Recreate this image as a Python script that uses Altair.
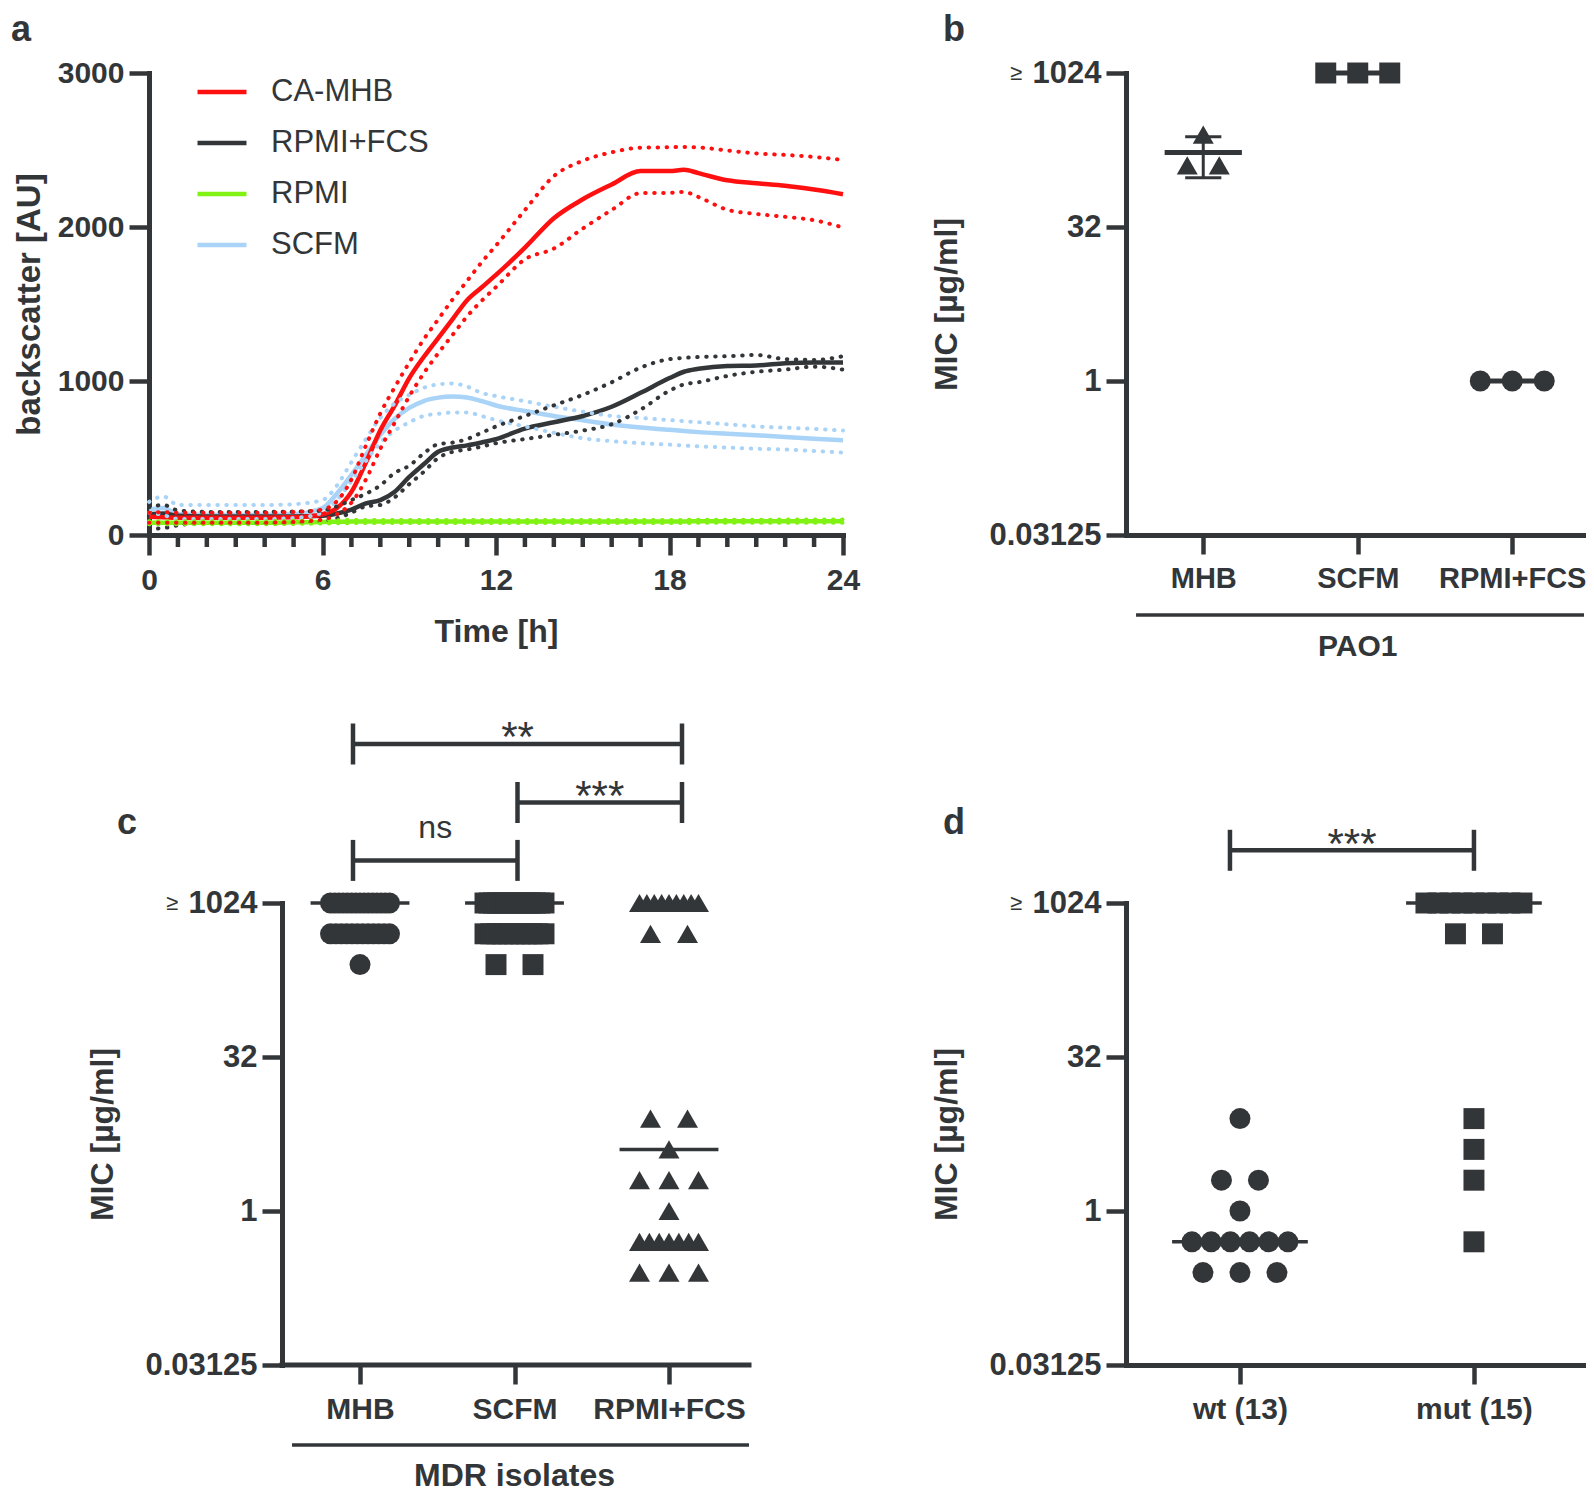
import altair as alt
import numpy as np
import pandas as pd

FONT = "Liberation Sans"
INK = "#333638"

# ---------------- panel a : growth curves (backscatter) ----------------
T = [0, 0.5, 1, 2, 3, 4, 5, 6, 6.5, 7, 7.5, 8, 8.5, 9, 9.5, 10, 10.5, 11, 11.5, 12,
     13, 14, 15, 16, 17, 18, 18.5, 19, 20, 21, 22, 23, 24]

MHB_MEAN = [118, 115, 112, 112, 112, 112, 115, 135, 175, 280, 470, 680, 842, 1019, 1156, 1279, 1402, 1525, 1607, 1689,
            1866, 2057, 2180, 2276, 2363, 2363, 2372, 2350, 2303, 2284, 2268, 2243, 2213]
MHB_HI = [145, 148, 145, 145, 145, 145, 150, 165, 220, 360, 580, 790, 960, 1120, 1270, 1400, 1530, 1650, 1770, 1880,
          2110, 2330, 2430, 2485, 2515, 2518, 2520, 2517, 2497, 2478, 2468, 2455, 2435]
MHB_LO = [80, 80, 80, 80, 80, 80, 85, 100, 135, 210, 360, 560, 730, 900, 1050, 1180, 1300, 1420, 1520, 1610,
          1790, 1860, 1990, 2110, 2220, 2222, 2228, 2195, 2112, 2085, 2066, 2044, 1997]

FCS_MEAN = [135, 140, 125, 120, 120, 120, 120, 125, 140, 165, 205, 227, 281, 377, 459, 541, 568, 582, 601, 623,
            691, 732, 773, 833, 923, 1019, 1060, 1079, 1098, 1101, 1115, 1120, 1120]
FCS_HI = [180, 195, 160, 150, 150, 150, 152, 158, 186, 227, 268, 322, 404, 450, 530, 590, 600, 623, 664, 705,
          773, 842, 910, 992, 1087, 1142, 1150, 1156, 1161, 1169, 1142, 1137, 1161]
FCS_LO = [40, 45, 63, 77, 77, 77, 80, 90, 109, 145, 186, 195, 245, 330, 410, 500, 540, 555, 574, 596,
          623, 650, 678, 719, 814, 937, 978, 992, 1033, 1060, 1074, 1093, 1074]

RPMI_MEAN = [80, 80, 80, 80, 80, 80, 82, 85, 86, 87, 88, 88, 88, 88, 88, 88, 88, 88, 88, 88,
             88, 88, 88, 88, 88, 88, 88, 89, 89, 89, 90, 90, 90]
RPMI_HI = [90, 90, 90, 90, 90, 90, 92, 95, 96, 97, 98, 98, 98, 98, 98, 98, 98, 98, 98, 98,
           98, 98, 98, 98, 98, 98, 98, 99, 99, 99, 100, 100, 100]
RPMI_LO = [70, 70, 70, 70, 70, 70, 72, 75, 76, 77, 78, 78, 78, 78, 78, 78, 78, 78, 78, 78,
           78, 78, 78, 78, 78, 78, 78, 79, 79, 79, 80, 80, 80]

SCFM_MEAN = [165, 175, 135, 130, 130, 130, 135, 175, 270, 390, 520, 650, 755, 825, 870, 892, 900, 893, 870, 841,
             805, 773, 745, 718, 698, 683, 675, 668, 658, 648, 637, 625, 615]
SCFM_HI = [215, 250, 195, 194, 194, 195, 200, 227, 322, 473, 623, 760, 855, 910, 956, 978, 984, 964, 923, 902,
           869, 833, 801, 773, 760, 746, 739, 732, 719, 705, 697, 689, 678]
SCFM_LO = [145, 130, 104, 104, 104, 104, 110, 145, 227, 350, 480, 600, 678, 732, 773, 787, 795, 795, 773, 746,
           705, 664, 628, 609, 596, 587, 581, 576, 568, 560, 555, 546, 535]

MEDIA = ["CA-MHB", "RPMI+FCS", "RPMI", "SCFM"]
MEDIA_COLORS = ["#ff1010", "#333638", "#80f214", "#a9d3f7"]
DRAW_ORDER = ["SCFM", "RPMI+FCS", "RPMI", "CA-MHB"]
SERIES = {
    "CA-MHB": (MHB_MEAN, MHB_HI, MHB_LO),
    "RPMI+FCS": (FCS_MEAN, FCS_HI, FCS_LO),
    "RPMI": (RPMI_MEAN, RPMI_HI, RPMI_LO),
    "SCFM": (SCFM_MEAN, SCFM_HI, SCFM_LO),
}
MAJOR_HOURS = [0, 6, 12, 18, 24]
MINOR_HOURS = [h for h in range(25) if h % 6]

# ---------------- panel b : PAO1 MIC ----------------
B_CATS = ["MHB", "SCFM", "RPMI+FCS"]
B_MHB = [256, 128, 128]
B_SCFM = [1024, 1024, 1024]
B_RPMI = [1, 1, 1]
B_SHAPES = ["triangle-up", "square", "circle"]

# ---------------- panel c : MDR isolates MIC ----------------
C_CATS = ["MHB", "SCFM", "RPMI+FCS"]
C_MHB = [1024] * 15 + [512] * 12 + [256]
C_SCFM = [1024] * 15 + [512] * 11 + [256] * 2
C_RPMI = [1024] * 9 + [512] * 2 + [8] * 2 + [4] + [2] * 3 + [1] + [0.5] * 7 + [0.25] * 3
C_MEDIANS = [1024, 1024, 4]
C_SHAPES = ["circle", "square", "triangle-up"]
C_TESTS = [("MHB", "RPMI+FCS", "**"), ("SCFM", "RPMI+FCS", "***"), ("MHB", "SCFM", "ns")]

# ---------------- panel d : wt vs mut ----------------
D_CATS = ["wt (13)", "mut (15)"]
D_WT = [8, 2, 2, 1] + [0.5] * 6 + [0.25] * 3
D_MUT = [1024] * 9 + [512] * 2 + [8, 4, 2, 0.5]
D_MEDIANS = [0.5, 1024]
D_SHAPES = ["circle", "square"]
D_TESTS = [("wt (13)", "mut (15)", "***")]

Y_TICKS = [0.03125, 1, 32, 1024]

# ---------------- layout constants ----------------
H = 462
W_A, W_B, W_C, W_D = 694, 458, 600, 458
UNIT_BC = 154.5
UNIT_D = 234.0
B_DOM = [0.5, 0.5 + W_B / UNIT_BC]
C_DOM = [-0.3657, -0.3657 + W_C / UNIT_BC]
C_AXIS_OFF = 133
D_DOM = [0.513, 0.513 + W_D / UNIT_D]
PXD = H / 15.0
MARK = 440
LETTER_Y = -32
LETTER_SIZE = 36


def above(px):
    return 1024.0 * 2 ** (px / PXD)


def spread(values, center, base_px, span_px, unit_px):
    vals = list(values)
    out = []
    for v in sorted(set(vals), reverse=True):
        n = vals.count(v)
        step = base_px if n < 2 else min(base_px, span_px / (n - 1))
        for i in range(n):
            out.append((center + (i - (n - 1) / 2.0) * step / unit_px, v))
    return out


def dot_frame(prefix, cats, groups, base_px, span_px, unit_px):
    rows = []
    for k, (cat, vals) in enumerate(zip(cats, groups)):
        for u, v in spread(vals, k + 1, base_px, span_px, unit_px):
            rows.append({"u": u, "mic": v, "grp": prefix + cat})
    return pd.DataFrame(rows)


def text_layer(txt, x, y, size, weight="bold", align="center", baseline="alphabetic"):
    return alt.Chart(pd.DataFrame({"lab": [txt]})).mark_text(
        font=FONT, fontSize=size, fontWeight=weight, color=INK, align=align, baseline=baseline
    ).encode(x=alt.value(x), y=alt.value(y), text="lab:N")


def mic_y(offset=0):
    return alt.Y(
        "mic:Q",
        scale=alt.Scale(type="log", base=2, domain=[0.03125, 1024], nice=False),
        axis=alt.Axis(values=Y_TICKS, format=".5~f", tickSize=20, labelFontSize=31, labelPadding=5,
                      labelFlush=False,
                      title="MIC [µg/ml]", titleX=-170, titleY=H / 2, titleAngle=270,
                      titleBaseline="alphabetic", titleAlign="center", titleFontSize=32, offset=offset),
    )


def cat_x(cats, dom, font, show_domain=True):
    expr = "[" + ",".join(["''"] + ["'" + c + "'" for c in cats]) + "][datum.value]"
    return alt.X(
        "u:Q",
        scale=alt.Scale(domain=dom, nice=False, zero=False),
        axis=alt.Axis(values=list(range(1, len(cats) + 1)), labelExpr=expr, tickSize=19,
                      labelFontSize=font, labelPadding=10, title=None, domain=show_domain,
                      labelFlush=False),
    )


def dot_panel(prefix, cats, groups, shapes, base_px, span_px, unit_px, dom, lab_font, axis_off, show_domain):
    df = dot_frame(prefix, cats, groups, base_px, span_px, unit_px)
    pts = alt.Chart(df).mark_point(filled=True, size=MARK, opacity=1, color=INK).encode(
        x=cat_x(cats, dom, lab_font, show_domain),
        y=mic_y(axis_off),
        shape=alt.Shape("grp:N", scale=alt.Scale(domain=[prefix + c for c in cats], range=shapes),
                        legend=None),
    )
    return pts


def center_lines(centers, half, width):
    df = pd.DataFrame({"u": [k + 1 - half for k in range(len(centers))],
                       "u2": [k + 1 + half for k in range(len(centers))],
                       "mic": centers})
    return alt.Chart(df).mark_rule(color=INK, strokeWidth=width).encode(
        x="u:Q", x2="u2:Q", y="mic:Q")


def brackets(cats, tests, levels_px, text_px, nudges_px, unit_px, sizes):
    hs, vs, ts = [], [], []
    for (a, b, lab), lv, tp, fs in zip(tests, levels_px, text_px, sizes):
        ua = cats.index(a) + 1 + nudges_px[a] / unit_px
        ub = cats.index(b) + 1 + nudges_px[b] / unit_px
        hs.append({"u": ua, "u2": ub, "mic": above(lv)})
        for uu in (ua, ub):
            vs.append({"u": uu, "mic": above(lv - 20.5), "mic2": above(lv + 20.5)})
        ts.append({"u": (ua + ub) / 2, "mic": above(tp), "lab": lab, "fs": fs})
    hl = alt.Chart(pd.DataFrame(hs)).mark_rule(color=INK, strokeWidth=4.5).encode(
        x="u:Q", x2="u2:Q", y="mic:Q")
    vl = alt.Chart(pd.DataFrame(vs)).mark_rule(color=INK, strokeWidth=4.5).encode(
        x="u:Q", y="mic:Q", y2="mic2:Q")
    layers = [hl, vl]
    tdf = pd.DataFrame(ts)
    for fs in sorted(set(tdf["fs"])):
        layers.append(alt.Chart(tdf[tdf["fs"] == fs]).mark_text(
            font=FONT, fontSize=float(fs), color=INK, align="center", baseline="alphabetic"
        ).encode(x="u:Q", y="mic:Q", text="lab:N"))
    return layers


def underline(u1, u2, label, label_size):
    rl = alt.Chart(pd.DataFrame({"u": [u1], "u2": [u2]})).mark_rule(color=INK, strokeWidth=3.5).encode(
        x="u:Q", x2="u2:Q", y=alt.value(H + 80))
    tl = alt.Chart(pd.DataFrame({"u": [2], "lab": [label]})).mark_text(
        font=FONT, fontSize=label_size, fontWeight="bold", color=INK, align="center", baseline="alphabetic"
    ).encode(x="u:Q", y=alt.value(H + 120.5), text="lab:N")
    return [rl, tl]


# ================= panel a =================
rows = []
for m in DRAW_ORDER:
    mean, hi, lo = SERIES[m]
    for kind, arr in (("mean", mean), ("upper", hi), ("lower", lo)):
        for t, v in zip(T, arr):
            rows.append({"t": t, "v": v, "medium": m, "kind": kind})
curves = pd.DataFrame(rows)

xa = alt.X("t:Q", scale=alt.Scale(domain=[0, 24], nice=False, zero=False),
           axis=alt.Axis(values=MAJOR_HOURS, tickSize=20, labelFontSize=30, labelPadding=10,
                         labelFlush=False, format="d",
                         title="Time [h]", titleFontSize=32, titleY=106, titleBaseline="alphabetic"))
ya = alt.Y("v:Q", scale=alt.Scale(domain=[0, 3000], nice=False),
           axis=alt.Axis(values=[0, 1000, 2000, 3000], tickSize=20, labelFontSize=30, labelPadding=5,
                         labelFlush=False, format="d",
                         title="backscatter [AU]", titleFontSize=33, titleX=-110, titleY=H / 2,
                         titleAngle=270, titleBaseline="alphabetic", titleAlign="center"))
cscale = alt.Scale(domain=MEDIA, range=MEDIA_COLORS)

a_mean = alt.Chart(curves).transform_filter("datum.kind == 'mean'").mark_line(
    strokeWidth=4.5, interpolate="monotone"
).encode(
    x=xa, y=ya,
    color=alt.Color("medium:N", scale=cscale,
                    legend=alt.Legend(orient="none", legendX=46, legendY=-8, title=None,
                                      symbolType="stroke", symbolSize=2401, symbolStrokeWidth=4.5,
                                      labelFontSize=31, labelFont=FONT, labelFontWeight="normal",
                                      labelColor=INK, labelOffset=22, rowPadding=9, padding=0)),
)
a_dots = alt.Chart(curves).transform_filter("datum.kind != 'mean'").mark_line(
    strokeDash=[0.5, 8.5], strokeCap="round", strokeWidth=4, interpolate="monotone"
).encode(x="t:Q", y="v:Q", stroke=alt.Stroke("medium:N", scale=cscale, legend=None), detail="kind:N")

a_minor = alt.Chart(pd.DataFrame({"t": MINOR_HOURS})).mark_rule(color=INK, strokeWidth=4.5).encode(
    x="t:Q", y=alt.value(H), y2=alt.value(H + 12))

panel_a = alt.layer(a_mean, a_dots, a_minor, text_layer("a", -128, LETTER_Y, LETTER_SIZE)).properties(
    width=W_A, height=H)

# ================= panel b =================
b_groups = [B_MHB, B_SCFM, B_RPMI]
b_pts = dot_panel("b:", B_CATS, b_groups, B_SHAPES, 32, 100, UNIT_BC, B_DOM, 29, 0, True)
b_means = [float(np.mean(g)) for g in b_groups]
b_sd = [float(np.std(g, ddof=1)) for g in b_groups]
err_rows = [{"u": k + 1, "mic": b_means[k] - b_sd[k], "mic2": b_means[k] + b_sd[k]}
            for k in range(3) if b_sd[k] > 0]
err_df = pd.DataFrame(err_rows)
b_err = alt.Chart(err_df).mark_rule(color=INK, strokeWidth=3).encode(x="u:Q", y="mic:Q", y2="mic2:Q")
cap_rows = []
for r in err_rows:
    for yv in (r["mic"], r["mic2"]):
        cap_rows.append({"u": r["u"] - 0.117, "u2": r["u"] + 0.117, "mic": yv})
b_caps = alt.Chart(pd.DataFrame(cap_rows)).mark_rule(color=INK, strokeWidth=3).encode(
    x="u:Q", x2="u2:Q", y="mic:Q")
b_line = center_lines(b_means, 0.25, 5)
panel_b = alt.layer(
    b_pts, b_line, b_err, b_caps, *underline(0.565, B_DOM[1], "PAO1", 30),
    text_layer("≥", -110, 0, 22, weight="normal", baseline="middle"),
    text_layer("b", -172, LETTER_Y, LETTER_SIZE),
).properties(width=W_B, height=H)

# ================= panel c =================
c_pts = dot_panel("c:", C_CATS, [C_MHB, C_SCFM, C_RPMI], C_SHAPES, 37, 59, UNIT_BC, C_DOM, 30,
                  -C_AXIS_OFF, False)
c_line = center_lines(C_MEDIANS, 0.32, 3.5)
c_base = alt.Chart(pd.DataFrame({"u": [0.495], "u2": [C_DOM[1]], "mic": [0.03125]})).mark_rule(
    color=INK, strokeWidth=5, strokeCap="square").encode(x="u:Q", x2="u2:Q", y="mic:Q")
c_nudge = {"MHB": -7, "SCFM": 3, "RPMI+FCS": 13}
c_br = brackets(C_CATS, C_TESTS, [159, 100.5, 42.6], [152, 93, 65], c_nudge, UNIT_BC, [42, 42, 32])
panel_c = alt.layer(
    c_line, c_pts, c_base, *c_br, *underline(0.56, C_DOM[1], "MDR isolates", 32),
    text_layer("≥", C_AXIS_OFF - 110, 0, 22, weight="normal", baseline="middle"),
    text_layer("c", -22, -69, LETTER_SIZE),
).properties(width=W_C, height=H)

# ================= panel d =================
d_pts = dot_panel("d:", D_CATS, [D_WT, D_MUT], D_SHAPES, 37, 96, UNIT_D, D_DOM, 30, 0, True)
d_line = center_lines(D_MEDIANS, 0.29, 3.5)
d_nudge = {"wt (13)": -10, "mut (15)": 0}
d_br = brackets(D_CATS, D_TESTS, [52.7], [45.5], d_nudge, UNIT_D, [42])
panel_d = alt.layer(
    d_line, d_pts, *d_br,
    text_layer("≥", -110, 0, 22, weight="normal", baseline="middle"),
    text_layer("d", -172, -69, LETTER_SIZE),
).properties(width=W_D, height=H)

chart = alt.concat(
    panel_a, panel_b, panel_c, panel_d,
    columns=2, spacing={"row": 368, "column": 283}, bounds="flush", align="each",
).resolve_scale(shape="independent").properties(
    padding={"left": 2, "top": 4, "right": 0, "bottom": 0}
).configure_view(stroke=None).configure_axis(
    domainColor=INK, tickColor=INK, labelColor=INK, titleColor=INK,
    labelFont=FONT, titleFont=FONT, labelFontWeight="bold", titleFontWeight="bold",
    grid=False, domainWidth=5, tickWidth=4.5, domainCap="square",
)

chart.save("out.html", embed_options={"renderer": "svg", "actions": False})
